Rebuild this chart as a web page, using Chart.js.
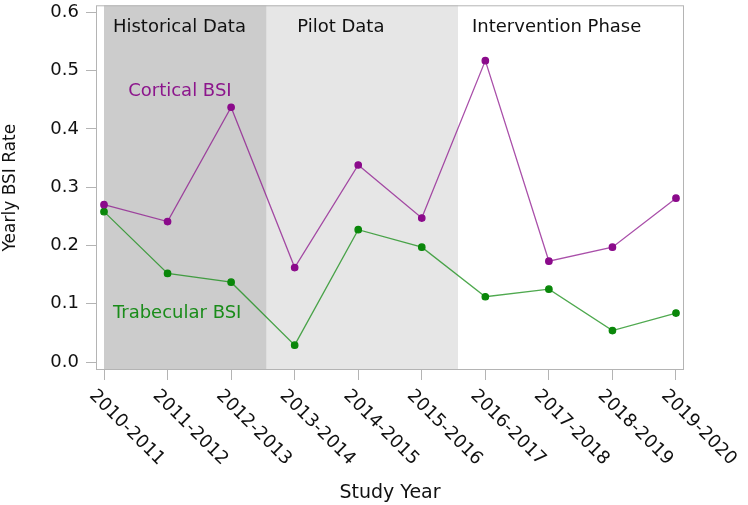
<!DOCTYPE html>
<html>
<head>
<meta charset="utf-8">
<script src="https://cdn.jsdelivr.net/npm/chart.js@4"></script>
<style>
  html, body { margin: 0; padding: 0; background: #fff; }
  #wrap { width: 748px; height: 505px; }
</style>
</head>
<body>
<div id="wrap"><canvas id="chart"></canvas></div>
<script>
const studyYears = [
  "2010-2011", "2011-2012", "2012-2013", "2013-2014", "2014-2015",
  "2015-2016", "2016-2017", "2017-2018", "2018-2019", "2019-2020",
];
const corticalRates = [0.270, 0.241, 0.437, 0.162, 0.338, 0.247, 0.517, 0.173, 0.197, 0.281];
const trabecularRates = [0.258, 0.152, 0.137, 0.029, 0.227, 0.197, 0.112, 0.125, 0.054, 0.084];
const yTicks = [0.0, 0.1, 0.2, 0.3, 0.4, 0.5, 0.6];

// study phases: name and the x position (in year index) where each begins
const phaseNames = ["Historical Data", "Pilot Data", "Intervention Phase"];
const phaseStarts = [0, 2.56, 5.57];

const FONT = "'DejaVu Sans', sans-serif";
const TEXT = "#111";
const FRAME = "#b4b4b4";
const phaseColors = ["#cccccc", "#e6e6e6", "#ffffff"];
const phaseLabelX = [0.14, 3.04, 5.79];

const toPoints = (values) => values.map((v, i) => ({ x: i, y: v }));

const phasePlugin = {
  id: "phases",
  beforeDatasetsDraw(chart) {
    const { ctx, chartArea: a, scales: { x } } = chart;
    ctx.save();
    phaseStarts.forEach((start, k) => {
      const left = x.getPixelForValue(start);
      const right = k < phaseStarts.length - 1 ? x.getPixelForValue(phaseStarts[k + 1]) : a.right;
      ctx.fillStyle = phaseColors[k];
      ctx.fillRect(left, a.top, right - left, a.bottom - a.top);
    });
    ctx.fillStyle = TEXT;
    ctx.font = "18px " + FONT;
    ctx.textAlign = "left";
    ctx.textBaseline = "alphabetic";
    phaseNames.forEach((name, k) => {
      ctx.fillText(name, x.getPixelForValue(phaseLabelX[k]), a.top + 27);
    });
    ctx.restore();
  },
  afterDatasetsDraw(chart) {
    const { ctx, chartArea: a, scales: { x, y } } = chart;
    ctx.save();
    ctx.strokeStyle = FRAME;
    ctx.lineWidth = 1;
    ctx.strokeRect(a.left + 0.5, a.top + 0.5, a.right - a.left - 1, a.bottom - a.top - 1);

    // series labels
    ctx.font = "18px " + FONT;
    ctx.textAlign = "left";
    ctx.textBaseline = "middle";
    ctx.fillStyle = "#8c168c";
    ctx.fillText("Cortical BSI", x.getPixelForValue(0.38), y.getPixelForValue(0.4636));
    ctx.fillStyle = "#1a8c1a";
    ctx.fillText("Trabecular BSI", x.getPixelForValue(0.14), y.getPixelForValue(0.0835));

    // rotated study-year labels
    ctx.fillStyle = TEXT;
    x.ticks.forEach((t) => {
      ctx.save();
      ctx.translate(x.getPixelForValue(t.value) - 12, a.bottom + 23);
      ctx.rotate(Math.PI / 4);
      ctx.fillText(studyYears[t.value], 0, 0);
      ctx.restore();
    });
    ctx.restore();
  },
};

new Chart(document.getElementById("chart"), {
  type: "line",
  data: {
    datasets: [
      {
        label: "Cortical BSI",
        data: toPoints(corticalRates),
        borderColor: "rgba(140, 20, 140, 0.75)",
        backgroundColor: "#8b0a8b",
        pointBackgroundColor: "#8b0a8b",
        pointBorderColor: "#8b0a8b",
        pointRadius: 3.2,
        borderWidth: 1.3,
      },
      {
        label: "Trabecular BSI",
        data: toPoints(trabecularRates),
        borderColor: "rgba(20, 140, 20, 0.75)",
        backgroundColor: "#0a870a",
        pointBackgroundColor: "#0a870a",
        pointBorderColor: "#0a870a",
        pointRadius: 3.2,
        borderWidth: 1.3,
      },
    ],
  },
  options: {
    responsive: true,
    maintainAspectRatio: false,
    animation: false,
    layout: { padding: { top: 3, right: 64, bottom: 0, left: 0 } },
    plugins: { legend: { display: false }, tooltip: { enabled: false } },
    scales: {
      x: {
        type: "linear",
        min: -0.126,
        max: 9.126,
        afterBuildTicks: (s) => {
          s.ticks = studyYears.map((_, i) => ({ value: i }));
        },
        afterFit: (s) => {
          s.height = 135;
          s.paddingLeft = 0;
          s.paddingRight = 0;
        },
        ticks: { display: false },
        grid: { drawOnChartArea: false, drawTicks: true, tickLength: 10, color: FRAME },
        border: { display: false },
        title: {
          display: true,
          text: "Study Year",
          color: TEXT,
          font: { family: FONT, size: 19 },
          padding: { top: 0, bottom: 1 },
        },
      },
      y: {
        min: -0.01364,
        max: 0.6119,
        afterBuildTicks: (s) => {
          s.ticks = yTicks.map((v) => ({ value: v }));
        },
        afterFit: (s) => {
          s.width = 96;
          s.paddingTop = 0;
          s.paddingBottom = 0;
        },
        ticks: {
          color: TEXT,
          font: { family: FONT, size: 18 },
          padding: 7,
          callback: (v) => v.toFixed(1),
        },
        grid: { drawOnChartArea: false, drawTicks: true, tickLength: 10, color: FRAME },
        border: { display: false },
        title: {
          display: true,
          text: "Yearly BSI Rate",
          color: TEXT,
          font: { family: FONT, size: 17 },
          padding: { top: 0, bottom: 0 },
        },
      },
    },
  },
  plugins: [phasePlugin],
});
</script>
</body>
</html>
